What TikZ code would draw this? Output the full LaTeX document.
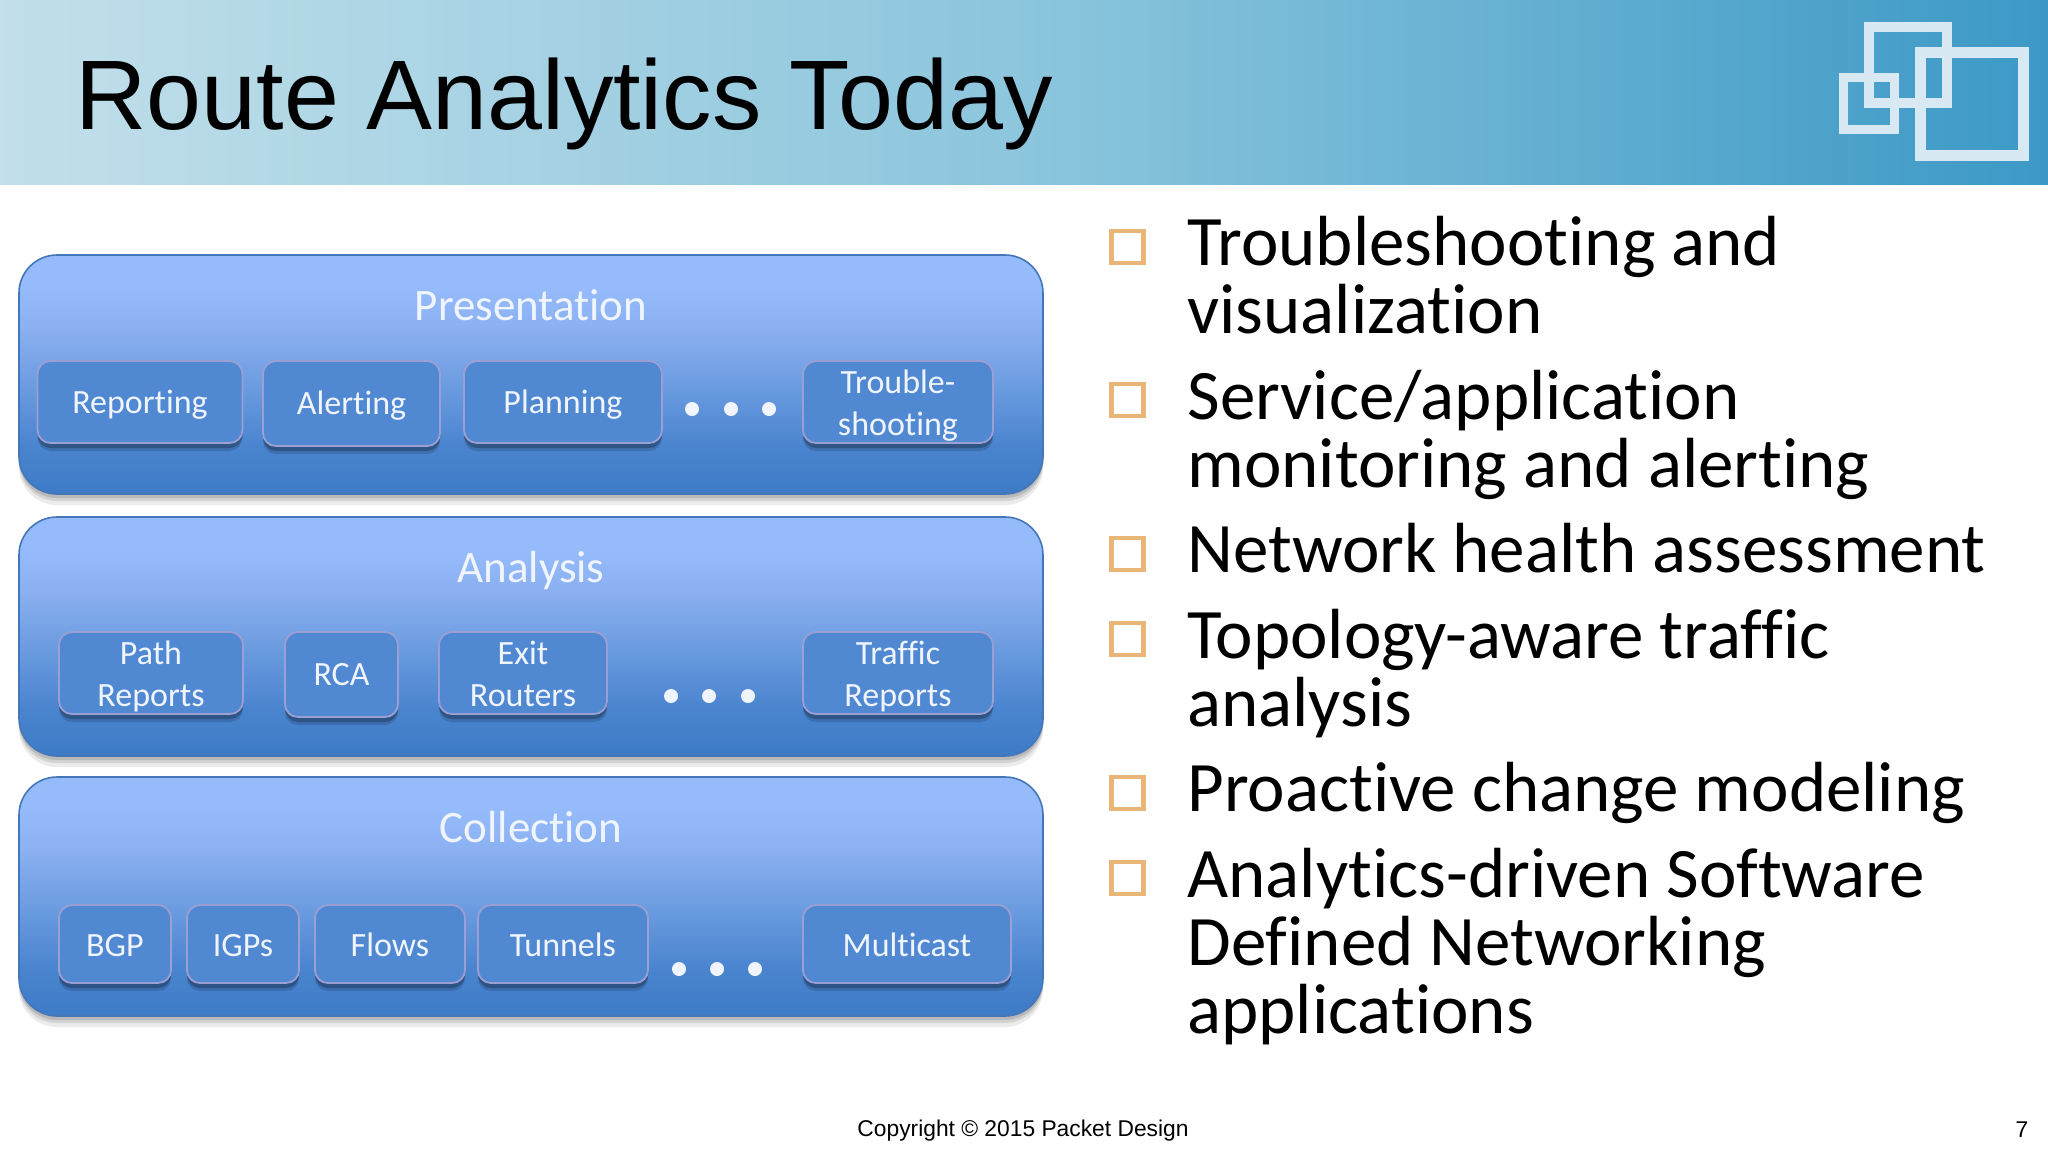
\documentclass[tikz,border=0pt]{standalone}
\usepackage{fontspec}
\setmainfont{Carlito}[Ligatures=NoCommon]
\newfontfamily\arialfont{Liberation Sans}
\usetikzlibrary{shadows}

\definecolor{panelline}{HTML}{4577B8}
\definecolor{buttonfill}{HTML}{5088D2}
\definecolor{buttonline}{HTML}{9C9FD2}
\definecolor{labelwhite}{HTML}{F0F5FD}
\definecolor{logocolor}{HTML}{D8E9F3}
\definecolor{bulletline}{HTML}{E9B677}

\pgfdeclareverticalshading{panelshade}{100bp}{
	rgb(0bp)=(0.243,0.482,0.776);
	rgb(25bp)=(0.243,0.482,0.776);
	rgb(35bp)=(0.290,0.518,0.812);
	rgb(50bp)=(0.447,0.627,0.890);
	rgb(60bp)=(0.545,0.694,0.949);
	rgb(68bp)=(0.584,0.733,0.984);
	rgb(100bp)=(0.584,0.733,0.984)}
\pgfdeclarehorizontalshading{headershade}{100bp}{
	rgb(0bp)=(0.760,0.875,0.918);
	rgb(25bp)=(0.760,0.875,0.918);
	rgb(50bp)=(0.550,0.775,0.866);
	rgb(75bp)=(0.235,0.600,0.776);
	rgb(100bp)=(0.235,0.600,0.776)}

\tikzset{
	panel/.style={rectangle,rounded corners=19pt,minimum width=512pt,minimum height=119.5pt,inner sep=0pt,draw=panelline,line width=0.8pt,shading=panelshade,
		drop shadow={shadow xshift=0pt,shadow yshift=-5.5pt,fill=black,opacity=0.08},
		drop shadow={shadow xshift=0pt,shadow yshift=-3.5pt,fill=black,opacity=0.1},
		drop shadow={shadow xshift=0pt,shadow yshift=-2pt,fill=black,opacity=0.12}},
	paneltitle/.style={text=labelwhite,font=\fontsize{22.5}{24}\selectfont,inner sep=0pt,text height=20pt,text depth=5pt},
	button/.style={rectangle,rounded corners=6.5pt,minimum height=41pt,inner sep=0pt,align=center,fill=buttonfill,draw=buttonline,line width=0.9pt,text=labelwhite,font=\fontsize{17}{21}\selectfont,text height=15pt,text depth=4pt,
		drop shadow={shadow xshift=0pt,shadow yshift=-4pt,fill=black,opacity=0.14},
		drop shadow={shadow xshift=0pt,shadow yshift=-2.5pt,fill=black,opacity=0.24}},
	twoline/.style={text height=37pt,text depth=4pt},
	shortbutton/.style={button,minimum height=39pt,text height=16pt},
	moredot/.style={circle,fill=labelwhite,minimum size=7pt,inner sep=0pt},
	bulletbox/.style={rectangle,draw=bulletline,line width=2.2pt,minimum size=16pt,inner sep=0pt},
	bullettext/.style={anchor=north west,align=left,inner sep=0pt,font=\fontsize{35.5}{34}\selectfont,text=black},
	logosquare/.style={draw=logocolor}
}

\begin{document}
\begin{tikzpicture}[x=0.5pt,y=-0.5pt]
	\useasboundingbox (0,0) rectangle (2048,1152);
	\fill[white] (0,0) rectangle (2048,1152);
	\shade[shading=headershade] (0,0) rectangle (2048,184);
	\node[anchor=base west,inner sep=0pt,font=\arialfont\fontsize{49.4}{50}\selectfont] (title) at (75,129) {Route Analytics Today};

	\draw[logosquare,line width=5pt] (1869,27) rectangle (1947,103);
	\draw[logosquare,line width=4.5pt] (1843.5,77.5) rectangle (1894.5,129.5);
	\draw[logosquare,line width=5.5pt] (1920.5,52.5) rectangle (2023.5,155.5);

	\node[panel] (presentation) at (531,374.5) {};
	\node[panel] (analysis) at (531,636.5) {};
	\node[panel] (collection) at (531,896.5) {};

	\node[paneltitle] (presentationtitle) at (531,305) {Presentation};
	\node[paneltitle] (analysistitle) at (531,567) {Analysis};
	\node[paneltitle] (collectiontitle) at (531,827) {Collection};

	\node[button,minimum width=102.5pt] (reporting) at (140,402) {Reporting};
	\node[button,minimum width=88.5pt,minimum height=42.5pt] (alerting) at (351.5,403.5) {Alerting};
	\node[button,minimum width=99pt] (planning) at (563,402) {Planning};
	\node[moredot] (dotpa) at (692,409) {};
	\node[moredot] (dotpb) at (731,409) {};
	\node[moredot] (dotpc) at (769,409) {};
	\node[button,twoline,minimum width=95pt] (troubleshooting) at (898,402) {Trouble-\\shooting};

	\node[button,twoline,minimum width=92pt] (pathreports) at (151,673) {Path\\Reports};
	\node[button,minimum width=56.5pt,minimum height=42.5pt] (rca) at (341.5,674.5) {RCA};
	\node[button,twoline,minimum width=84pt] (exitrouters) at (523,673) {Exit\\Routers};
	\node[moredot] (dotaa) at (671,696) {};
	\node[moredot] (dotab) at (709,696) {};
	\node[moredot] (dotac) at (748,696) {};
	\node[button,twoline,minimum width=95pt] (trafficreports) at (898,673) {Traffic\\Reports};

	\node[shortbutton,minimum width=56pt] (bgp) at (115,944) {BGP};
	\node[shortbutton,minimum width=56pt] (igps) at (243,944) {IGPs};
	\node[shortbutton,minimum width=75pt] (flows) at (390,944) {Flows};
	\node[shortbutton,minimum width=85pt] (tunnels) at (563,944) {Tunnels};
	\node[moredot] (dotca) at (679,969) {};
	\node[moredot] (dotcb) at (717,969) {};
	\node[moredot] (dotcc) at (755,969) {};
	\node[shortbutton,minimum width=104pt] (multicast) at (907,944) {Multicast};

	\node[bulletbox] (boxa) at (1127.5,247) {};
	\node[bulletbox] (boxb) at (1127.5,400) {};
	\node[bulletbox] (boxc) at (1127.5,554) {};
	\node[bulletbox] (boxd) at (1127.5,639) {};
	\node[bulletbox] (boxe) at (1127.5,793) {};
	\node[bulletbox] (boxf) at (1127.5,878) {};

	\node[bullettext] (troubletext) at (1187,215.5) {Troubleshooting and\\visualization};
	\node[bullettext] (servicetext) at (1187,369.5) {Service/application\\monitoring and alerting};
	\node[bullettext] (healthtext) at (1187,522.5) {Network health assessment};
	\node[bullettext] (topologytext) at (1187,608.5) {Topology-aware traffic\\analysis};
	\node[bullettext] (proactivetext) at (1187,761.5) {Proactive change modeling};
	\node[bullettext] (sdntext) at (1187,847.5) {Analytics-driven Software\\Defined Networking\\applications};

	\node[inner sep=0pt,font=\arialfont\fontsize{11.4}{14}\selectfont] (footer) at (1023,1130.5) {Copyright © 2015 Packet Design};
	\node[inner sep=0pt,font=\arialfont\fontsize{11.4}{14}\selectfont] (pagenumber) at (2022,1129.5) {7};
\end{tikzpicture}
\end{document}
